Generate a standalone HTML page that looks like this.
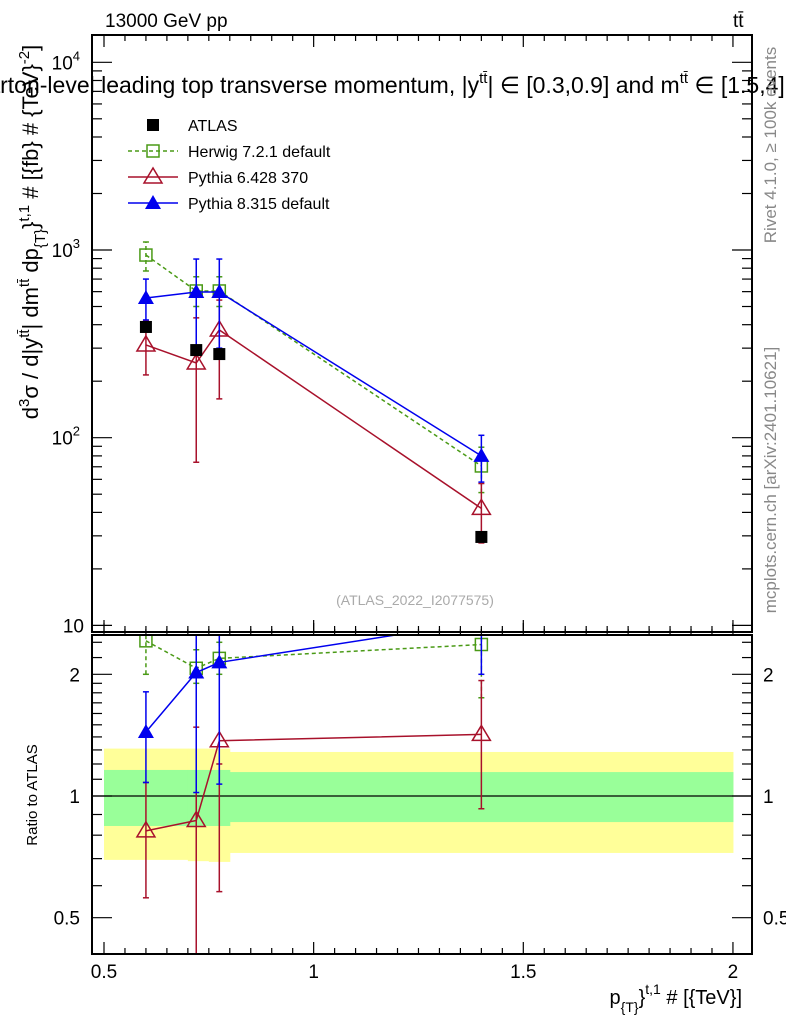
<!DOCTYPE html>
<html><head><meta charset="utf-8"><style>
body{margin:0;background:#fff;}
svg{display:block;font-family:"Liberation Sans",sans-serif;}
</style></head><body>
<svg id="c" width="786" height="1024" viewBox="0 0 786 1024"></svg>
<script>
const xVals=[0.6,0.72,0.775,1.4];
const atlas=[389,293,279,29.6];
const atlasLo=[370,280,266,28.2];
const atlasHi=[408,306,292,31];
const herwig=[940,605,605,70.7];
const herwigLo=[773,500,500,51];
const herwigHi=[1103,720,720,89];
const py6=[312,250,375,42];
const py6Lo=[216,74,161,27.5];
const py6Hi=[419,435,541,57];
const py8=[555,597,597,80];
const py8Lo=[424,300,300,58];
const py8Hi=[700,895,895,103];
const rHerwig=[2.42,2.07,2.19,2.37];
const rHerwigLo=[2.0,1.9,2.0,1.75];
const rHerwigHi=[2.9,2.3,2.4,2.9];
const rPy6=[0.82,0.87,1.37,1.42];
const rPy6Lo=[0.56,0.3,0.58,0.93];
const rPy6Hi=[1.08,1.48,1.2,1.93];
const rPy8=[1.44,2.02,2.14,2.7];
const rPy8Lo=[1.08,1.02,1.07,2.0];
const rPy8Hi=[1.81,3.0,3.0,3.5];
const bandEdges=[0.5,0.7,0.75,0.8,2.0];
const yellowLo=[0.695,0.69,0.687,0.723];
const yellowHi=[1.31,1.31,1.31,1.285];
const greenLo=[0.843,0.843,0.843,0.862];
const greenHi=[1.16,1.16,1.16,1.146];
const xTicks=[0.5,1,1.5,2];
const xTickLabels=["0.5","1","1.5","2"];
const rTicks=[0.5,1,2];

const NS="http://www.w3.org/2000/svg";
const svg=document.getElementById('c');
const L=92,R=752,T=35,B=632,RT=635,RB=954;
const X=v=>104+(v-0.5)*419.3;
const Y=v=>250-(Math.log10(v)-3)*187.7;
const YR=v=>796-Math.log2(v)*121.7;
function el(tag,attrs,parent){const e=document.createElementNS(NS,tag);for(const k in attrs)e.setAttribute(k,attrs[k]);(parent||svg).appendChild(e);return e;}
function txt(s,attrs,parent){const e=el('text',attrs,parent);e.textContent=s;return e;}

const defs=el('defs',{});
const cp1=el('clipPath',{id:'cm'},defs);el('rect',{x:L,y:T,width:R-L,height:B-T},cp1);
const cp2=el('clipPath',{id:'cr'},defs);el('rect',{x:L,y:RT,width:R-L,height:RB-RT},cp2);

const gBand=el('g',{'clip-path':'url(#cr)'});


for(let i=0;i<bandEdges.length-1;i++){
  const x0=X(bandEdges[i]),x1=X(bandEdges[i+1]);
  const yb=el('rect',{x:x0,y:YR(yellowHi[i]),width:x1-x0+0.5,height:YR(yellowLo[i])-YR(yellowHi[i]),fill:'#ffff99'},gBand);
  
  
}
for(let i=0;i<bandEdges.length-1;i++){
  const x0=X(bandEdges[i]),x1=X(bandEdges[i+1]);
  const gb=el('rect',{x:x0,y:YR(greenHi[i]),width:x1-x0+0.5,height:YR(greenLo[i])-YR(greenHi[i]),fill:'#99ff99'},gBand);
  
  
}
el('line',{x1:L,x2:R,y1:YR(1),y2:YR(1),stroke:'#000','stroke-width':1.2},gBand);

function marker(type,x,y,color,g){
  if(type==='sq') el('rect',{x:x-6,y:y-6,width:12,height:12,fill:'#000'},g);
  else if(type==='osq') el('rect',{x:x-6,y:y-6,width:12,height:12,fill:'none',stroke:color,'stroke-width':1.5},g);
  else if(type==='otri') el('polygon',{points:`${x},${y-9} ${x-9},${y+6} ${x+9},${y+6}`,fill:'none',stroke:color,'stroke-width':1.5},g);
  else if(type==='tri') el('polygon',{points:`${x},${y-8} ${x-8},${y+6} ${x+8},${y+6}`,fill:color},g);
}
function series(name,vals,lo,hi,Yf,color,type,dash,clip,line){
  const g=el('g',{'clip-path':`url(#${clip})`});
  
  
  if(line){
    const pts=xVals.map((x,i)=>`${X(x)},${Yf(vals[i])}`).join(' ');
    el('polyline',{points:pts,fill:'none',stroke:color,'stroke-width':1.5,'stroke-dasharray':dash||'none'},g);
  }
  xVals.forEach((x,i)=>{
    const px=X(x);
    el('line',{x1:px,x2:px,y1:Yf(lo[i]),y2:Yf(hi[i]),stroke:color,'stroke-width':1.5,'stroke-dasharray':dash||'none'},g);
    el('line',{x1:px-3,x2:px+3,y1:Yf(lo[i]),y2:Yf(lo[i]),stroke:color,'stroke-width':1.5},g);
    el('line',{x1:px-3,x2:px+3,y1:Yf(hi[i]),y2:Yf(hi[i]),stroke:color,'stroke-width':1.5},g);
    marker(type,px,Yf(vals[i]),color,g);
  });
}
const GRN='#4a9a16',RED='#a8112b',BLU='#0000ee';
series('herwig-series',herwig,herwigLo,herwigHi,Y,GRN,'osq','4,3','cm',true);
series('pythia6-series',py6,py6Lo,py6Hi,Y,RED,'otri',null,'cm',true);
series('pythia8-series',py8,py8Lo,py8Hi,Y,BLU,'tri',null,'cm',true);
series('atlas-series',atlas,atlasLo,atlasHi,Y,'#000','sq',null,'cm',false);
series('herwig-ratio',rHerwig,rHerwigLo,rHerwigHi,YR,GRN,'osq','4,3','cr',true);
series('pythia6-ratio',rPy6,rPy6Lo,rPy6Hi,YR,RED,'otri',null,'cr',true);
series('pythia8-ratio',rPy8,rPy8Lo,rPy8Hi,YR,BLU,'tri',null,'cr',true);

const f1=el('rect',{x:L,y:T,width:R-L,height:B-T,fill:'none',stroke:'#000','stroke-width':2});

const f2=el('rect',{x:L,y:RT,width:R-L,height:RB-RT,fill:'none',stroke:'#000','stroke-width':2});


const gx=el('g',{stroke:'#000','stroke-width':1.2});

for(let k=0;k<=32;k++){
  const v=0.45+k*0.05; if(v<0.43||v>2.08) continue;
  const px=X(v); if(px<L||px>R) continue;
  const major=Math.abs(v*2-Math.round(v*2))<1e-6;
  const len=major?12:6;
  [B,RT].forEach(y0=>el('line',{x1:px,x2:px,y1:y0,y2:y0-len},gx));
  [T,RB].forEach(y0=>el('line',{x1:px,x2:px,y1:y0,y2:y0+(y0===T?len:-len)},gx));
}
xTicks.forEach((v,i)=>{const t=txt(xTickLabels[i],{x:X(v),y:978,'font-size':19,'text-anchor':'middle'});
  });

const gy=el('g',{stroke:'#000','stroke-width':1.2});

for(let d=1;d<=4;d++)for(let m=1;m<=9;m++){
  const v=m*Math.pow(10,d); const py=Y(v); if(py<T||py>B) continue;
  const len=m===1?20:10;
  el('line',{x1:L,x2:L+len,y1:py,y2:py},gy);el('line',{x1:R,x2:R-len,y1:py,y2:py},gy);
}
const yl=[["10","4",Y(1e4)],["10","3",Y(1e3)],["10","2",Y(1e2)]];
yl.forEach(a=>{const t=el('text',{x:80,y:a[2]+7,'font-size':19,'text-anchor':'end'});
  
  t.innerHTML=`${a[0]}<tspan dy="-9" font-size="13">${a[1]}</tspan>`;});
const t10=txt('10',{x:84,y:Y(10)+7,'font-size':19,'text-anchor':'end'});


const gr=el('g',{stroke:'#000','stroke-width':1.2});

[0.4,0.5,0.6,0.7,0.8,0.9,1,1.1,1.2,1.3,1.4,1.5,1.6,1.7,1.8,1.9,2,2.2,2.4].forEach(v=>{
  const py=YR(v); if(py<RT||py>RB) return;
  const len=rTicks.includes(v)?20:10;
  el('line',{x1:L,x2:L+len,y1:py,y2:py},gr);el('line',{x1:R,x2:R-len,y1:py,y2:py},gr);
});
rTicks.forEach(v=>{
  const a=txt(String(v),{x:80,y:YR(v)+7,'font-size':19,'text-anchor':'end'});
  
  const b=txt(String(v),{x:763,y:YR(v)+7,'font-size':19});
  
});

const lg=el('g',{});

const entries=[['ATLAS','#000','sq',null,false],['Herwig 7.2.1 default',GRN,'osq','4,3',true],['Pythia 6.428 370',RED,'otri',null,true],['Pythia 8.315 default',BLU,'tri',null,true]];
entries.forEach((e,i)=>{
  const y=125+i*26;
  const ge=el('g',{},lg);
  
  if(e[4]) el('line',{x1:128,x2:178,y1:y,y2:y,stroke:e[1],'stroke-width':1.5,'stroke-dasharray':e[3]||'none'},ge);
  marker(e[2],153,y,e[1],ge);
  txt(e[0],{x:188,y:y+6,'font-size':16},ge);
});

const a1=txt('13000 GeV pp',{x:105,y:27,'font-size':19});
const a2=txt('tt̄',{x:733,y:27,'font-size':19});
const a3=el('text',{x:-28,y:93,'font-size':23});
a3.innerHTML='Parton-level leading top transverse momentum, |y<tspan dy="-10" font-size="15">tt̄</tspan><tspan dy="10">| ∈ [0.3,0.9] and m</tspan><tspan dy="-10" font-size="15">tt̄</tspan><tspan dy="10"> ∈ [1.5,4]</tspan>';
const a4=txt('(ATLAS_2022_I2077575)',{x:415,y:605,'font-size':14,fill:'#aaa','text-anchor':'middle'});
const a5=el('text',{x:0,y:0,'font-size':22,'text-anchor':'middle',transform:'translate(38,232) rotate(-90)'});
a5.innerHTML='d<tspan dy="-9" font-size="15">3</tspan><tspan dy="9">σ / d|y</tspan><tspan dy="-9" font-size="15">tt̄</tspan><tspan dy="9">| dm</tspan><tspan dy="-9" font-size="15">tt̄</tspan><tspan dy="9"> dp</tspan><tspan dy="7" font-size="15">{T}</tspan><tspan dy="-7">}</tspan><tspan dy="-9" font-size="15">t,1</tspan><tspan dy="9"> # [{fb} # {TeV}</tspan><tspan dy="-9" font-size="15">-2</tspan><tspan dy="9">]</tspan>';
const a6=txt('Ratio to ATLAS',{x:0,y:0,'font-size':15,'text-anchor':'middle',transform:'translate(37,795) rotate(-90)'});
const a7=el('text',{x:742,y:1004,'font-size':20,'text-anchor':'end'});
a7.innerHTML='p<tspan dy="8" font-size="14">{T}</tspan><tspan dy="-8">}</tspan><tspan dy="-10" font-size="14">t,1</tspan><tspan dy="10"> # [{TeV}]</tspan>';
const a8=txt('Rivet 4.1.0, ≥ 100k events',{x:0,y:0,'font-size':17,fill:'#888','text-anchor':'middle',transform:'translate(776,145) rotate(-90)'});
const a9=txt('mcplots.cern.ch [arXiv:2401.10621]',{x:0,y:0,'font-size':17,fill:'#888','text-anchor':'middle',transform:'translate(776,480) rotate(-90)'});
</script>
</body></html>
